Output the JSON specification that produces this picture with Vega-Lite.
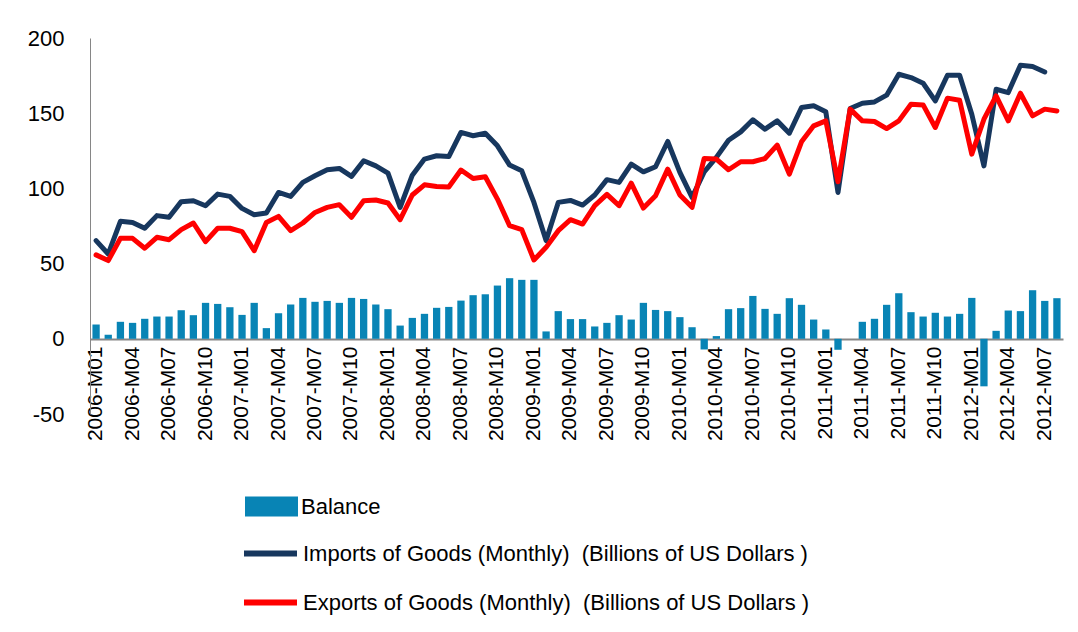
{
  "$schema": "https://vega.github.io/schema/vega-lite/v6.json",
  "width": 973,
  "height": 376,
  "autosize": {"type": "none"},
  "padding": {"left": 90, "top": 38, "right": 15, "bottom": 218},
  "config": {"view": {"stroke": null}, "font": "Liberation Sans", "background": "white"},
  "data": {"values": [
    {"m": "2006-M01", "imp": 65.3, "exp": 55.8, "bal": 9.5},
    {"m": "2006-M02", "imp": 56.4, "exp": 52.0, "bal": 2.7},
    {"m": "2006-M03", "imp": 78.1, "exp": 66.8, "bal": 11.3},
    {"m": "2006-M04", "imp": 77.4, "exp": 66.8, "bal": 10.6},
    {"m": "2006-M05", "imp": 73.5, "exp": 60.2, "bal": 13.3},
    {"m": "2006-M06", "imp": 81.9, "exp": 67.5, "bal": 14.8},
    {"m": "2006-M07", "imp": 80.8, "exp": 65.9, "bal": 14.8},
    {"m": "2006-M08", "imp": 91.2, "exp": 72.6, "bal": 19.0},
    {"m": "2006-M09", "imp": 91.8, "exp": 77.0, "bal": 15.7},
    {"m": "2006-M10", "imp": 88.5, "exp": 64.6, "bal": 23.9},
    {"m": "2006-M11", "imp": 96.2, "exp": 73.5, "bal": 23.2},
    {"m": "2006-M12", "imp": 94.7, "exp": 73.5, "bal": 21.0},
    {"m": "2007-M01", "imp": 86.7, "exp": 71.2, "bal": 15.9},
    {"m": "2007-M02", "imp": 82.5, "exp": 58.6, "bal": 23.9},
    {"m": "2007-M03", "imp": 83.6, "exp": 77.4, "bal": 7.1},
    {"m": "2007-M04", "imp": 97.3, "exp": 81.4, "bal": 17.0},
    {"m": "2007-M05", "imp": 94.7, "exp": 71.9, "bal": 22.8},
    {"m": "2007-M06", "imp": 104.0, "exp": 77.0, "bal": 27.2},
    {"m": "2007-M07", "imp": 108.4, "exp": 84.0, "bal": 24.6},
    {"m": "2007-M08", "imp": 112.4, "exp": 87.4, "bal": 25.2},
    {"m": "2007-M09", "imp": 113.3, "exp": 89.2, "bal": 23.9},
    {"m": "2007-M10", "imp": 108.0, "exp": 80.8, "bal": 27.2},
    {"m": "2007-M11", "imp": 118.4, "exp": 91.8, "bal": 26.5},
    {"m": "2007-M12", "imp": 115.0, "exp": 92.3, "bal": 22.8},
    {"m": "2008-M01", "imp": 110.2, "exp": 90.3, "bal": 19.7},
    {"m": "2008-M02", "imp": 87.4, "exp": 79.2, "bal": 8.8},
    {"m": "2008-M03", "imp": 108.8, "exp": 95.6, "bal": 13.9},
    {"m": "2008-M04", "imp": 119.5, "exp": 102.4, "bal": 16.6},
    {"m": "2008-M05", "imp": 121.7, "exp": 101.3, "bal": 20.6},
    {"m": "2008-M06", "imp": 121.2, "exp": 100.9, "bal": 21.2},
    {"m": "2008-M07", "imp": 137.2, "exp": 112.2, "bal": 25.4},
    {"m": "2008-M08", "imp": 135.0, "exp": 106.6, "bal": 29.0},
    {"m": "2008-M09", "imp": 136.7, "exp": 107.7, "bal": 29.6},
    {"m": "2008-M10", "imp": 128.3, "exp": 92.9, "bal": 35.4},
    {"m": "2008-M11", "imp": 115.5, "exp": 75.2, "bal": 40.3},
    {"m": "2008-M12", "imp": 111.7, "exp": 72.6, "bal": 39.2},
    {"m": "2009-M01", "imp": 90.7, "exp": 52.4, "bal": 39.2},
    {"m": "2009-M02", "imp": 65.3, "exp": 60.8, "bal": 4.9},
    {"m": "2009-M03", "imp": 90.7, "exp": 71.9, "bal": 18.4},
    {"m": "2009-M04", "imp": 92.0, "exp": 79.2, "bal": 13.1},
    {"m": "2009-M05", "imp": 88.9, "exp": 76.3, "bal": 13.1},
    {"m": "2009-M06", "imp": 95.6, "exp": 88.5, "bal": 8.2},
    {"m": "2009-M07", "imp": 105.8, "exp": 96.0, "bal": 10.6},
    {"m": "2009-M08", "imp": 104.0, "exp": 88.5, "bal": 15.7},
    {"m": "2009-M09", "imp": 116.2, "exp": 103.5, "bal": 12.8},
    {"m": "2009-M10", "imp": 111.0, "exp": 86.9, "bal": 23.9},
    {"m": "2009-M11", "imp": 114.4, "exp": 95.1, "bal": 19.2},
    {"m": "2009-M12", "imp": 131.2, "exp": 112.8, "bal": 18.4},
    {"m": "2010-M01", "imp": 110.6, "exp": 95.6, "bal": 14.4},
    {"m": "2010-M02", "imp": 94.0, "exp": 87.4, "bal": 7.7},
    {"m": "2010-M03", "imp": 111.0, "exp": 119.9, "bal": -7.1},
    {"m": "2010-M04", "imp": 120.6, "exp": 119.5, "bal": 1.8},
    {"m": "2010-M05", "imp": 132.0, "exp": 112.4, "bal": 19.7},
    {"m": "2010-M06", "imp": 137.6, "exp": 117.7, "bal": 20.4},
    {"m": "2010-M07", "imp": 145.6, "exp": 117.7, "bal": 28.5},
    {"m": "2010-M08", "imp": 139.4, "exp": 119.9, "bal": 19.9},
    {"m": "2010-M09", "imp": 144.9, "exp": 128.8, "bal": 16.6},
    {"m": "2010-M10", "imp": 136.7, "exp": 109.5, "bal": 27.0},
    {"m": "2010-M11", "imp": 153.8, "exp": 131.0, "bal": 22.6},
    {"m": "2010-M12", "imp": 154.9, "exp": 141.6, "bal": 12.8},
    {"m": "2011-M01", "imp": 150.9, "exp": 144.9, "bal": 6.2},
    {"m": "2011-M02", "imp": 97.3, "exp": 104.4, "bal": -7.3},
    {"m": "2011-M03", "imp": 153.1, "exp": 152.7, "bal": 0},
    {"m": "2011-M04", "imp": 156.6, "exp": 144.9, "bal": 11.3},
    {"m": "2011-M05", "imp": 157.5, "exp": 144.5, "bal": 13.3},
    {"m": "2011-M06", "imp": 162.0, "exp": 139.8, "bal": 22.6},
    {"m": "2011-M07", "imp": 175.9, "exp": 144.9, "bal": 30.3},
    {"m": "2011-M08", "imp": 173.7, "exp": 156.0, "bal": 17.7},
    {"m": "2011-M09", "imp": 169.9, "exp": 155.5, "bal": 14.8},
    {"m": "2011-M10", "imp": 158.2, "exp": 140.5, "bal": 17.3},
    {"m": "2011-M11", "imp": 175.2, "exp": 160.0, "bal": 14.8},
    {"m": "2011-M12", "imp": 175.2, "exp": 158.6, "bal": 16.6},
    {"m": "2012-M01", "imp": 149.3, "exp": 122.8, "bal": 27.2},
    {"m": "2012-M02", "imp": 115.0, "exp": 146.0, "bal": -31.6},
    {"m": "2012-M03", "imp": 165.9, "exp": 161.5, "bal": 5.3},
    {"m": "2012-M04", "imp": 163.7, "exp": 144.9, "bal": 18.8},
    {"m": "2012-M05", "imp": 181.9, "exp": 163.3, "bal": 18.4},
    {"m": "2012-M06", "imp": 181.0, "exp": 148.2, "bal": 32.3},
    {"m": "2012-M07", "imp": 177.4, "exp": 152.7, "bal": 25.2},
    {"m": "2012-M08", "imp": null, "exp": 151.5, "bal": 27.0}
  ]},
  "layer": [
    {
      "mark": {"type": "bar"},
      "encoding": {
        "x": {
          "field": "m", "type": "ordinal",
          "scale": {"paddingInner": 0.4, "paddingOuter": 0.2},
          "axis": {
            "title": null, "labelAngle": -90, "ticks": false,
            "values": ["2006-M01","2006-M04","2006-M07","2006-M10","2007-M01","2007-M04","2007-M07","2007-M10","2008-M01","2008-M04","2008-M07","2008-M10","2009-M01","2009-M04","2009-M07","2009-M10","2010-M01","2010-M04","2010-M07","2010-M10","2011-M01","2011-M04","2011-M07","2011-M10","2012-M01","2012-M04","2012-M07"],
            "labelFontSize": 21, "labelColor": "#000000", "labelPadding": 7,
            "offset": -75, "domainColor": "#868686", "domainWidth": 2
          }
        },
        "y": {
          "field": "bal", "type": "quantitative",
          "scale": {"domain": [-50, 200], "nice": false},
          "axis": {
            "title": null, "grid": false, "ticks": false,
            "values": [-50, 0, 50, 100, 150, 200],
            "labelExpr": "datum.value + ''",
            "labelFontSize": 22, "labelColor": "#000000", "labelPadding": 26,
            "domainColor": "#868686", "domainWidth": 1
          }
        },
        "fill": {
          "datum": "Balance", "type": "nominal",
          "scale": {"range": ["#0884B5"]},
          "legend": {
            "orient": "none", "legendX": 155, "legendY": 442, "title": null, "padding": 0,
            "symbolType": "M-1,-0.38H1V0.38H-1Z", "symbolSize": 2809, "symbolStrokeWidth": 0,
            "labelFontSize": 22, "labelColor": "#000000", "labelOffset": 3, "labelLimit": 0
          }
        }
      }
    },
    {
      "transform": [{"fold": ["imp", "exp"], "as": ["key", "val"]}],
      "mark": {"type": "line", "strokeWidth": 5, "strokeJoin": "round", "strokeCap": "round"},
      "encoding": {
        "x": {"field": "m", "type": "ordinal"},
        "y": {"field": "val", "type": "quantitative"},
        "stroke": {
          "field": "key", "type": "nominal",
          "scale": {"domain": ["imp", "exp"], "range": ["#17375E", "#FF0000"]},
          "legend": {
            "orient": "none", "legendX": 151, "legendY": 486, "title": null, "padding": 0,
            "symbolType": "stroke", "symbolSize": 2809, "symbolStrokeWidth": 6,
            "labelFontSize": 22, "labelColor": "#000000", "labelOffset": 3, "rowPadding": 7, "labelLimit": 0,
            "labelExpr": "datum.value == 'imp' ? 'Imports of Goods (Monthly)\u00a0 (Billions of US Dollars )' : 'Exports of Goods (Monthly)\u00a0 (Billions of US Dollars )'"
          }
        }
      }
    }
  ]
}
